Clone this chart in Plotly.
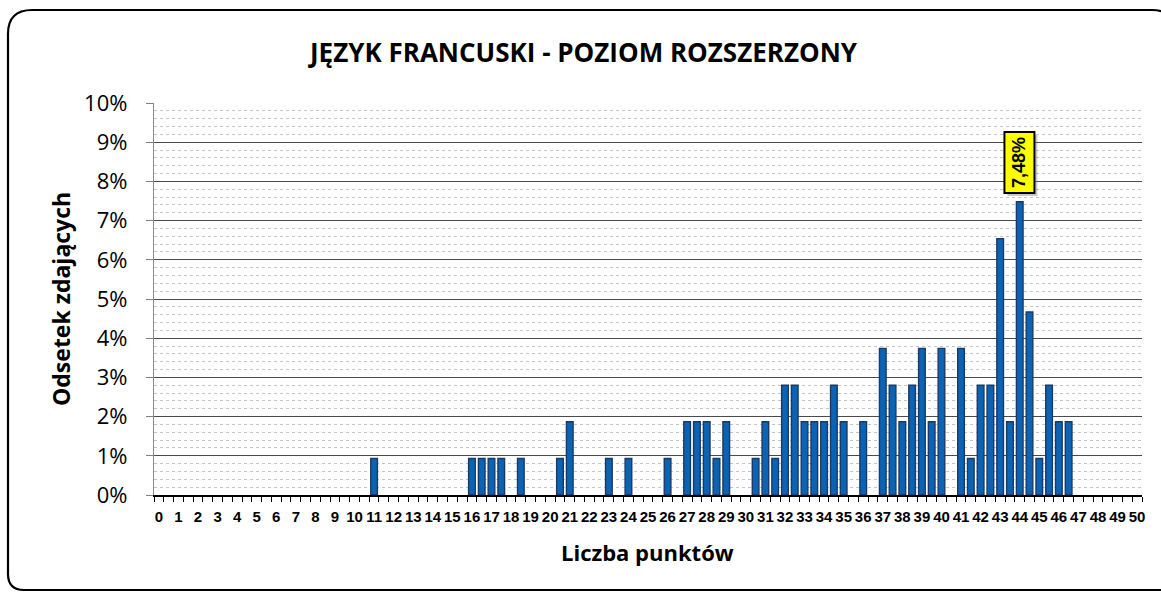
import plotly.graph_objects as go

# Categories: score points (half-point steps)
scores = [0, 0.5, 1, 1.5, 2, 2.5, 3, 3.5, 4, 4.5, 5, 5.5, 6, 6.5, 7, 7.5, 8, 8.5, 9, 9.5,
          10, 10.5, 11, 11.5, 12, 12.5, 13, 13.5, 14, 14.5, 15, 15.5, 16, 16.5, 17, 17.5,
          18, 18.5, 19, 19.5, 20, 20.5, 21, 21.5, 22, 22.5, 23, 23.5, 24, 24.5, 25, 25.5,
          26, 26.5, 27, 27.5, 28, 28.5, 29, 29.5, 30, 30.5, 31, 31.5, 32, 32.5, 33, 33.5,
          34, 34.5, 35, 35.5, 36, 36.5, 37, 37.5, 38, 38.5, 39, 39.5, 40, 40.5, 41, 41.5,
          42, 42.5, 43, 43.5, 44, 44.5, 45, 45.5, 46, 46.5, 47, 47.5, 48, 48.5, 49, 49.5, 50]

# Percent of examinees per score
percent = [0, 0, 0, 0, 0, 0, 0, 0, 0, 0, 0, 0, 0, 0, 0, 0, 0, 0, 0, 0,
           0, 0, 0.93, 0, 0, 0, 0, 0, 0, 0, 0, 0, 0.93, 0.93, 0.93, 0.93,
           0, 0.93, 0, 0, 0, 0.93, 1.87, 0, 0, 0, 0.93, 0, 0.93, 0, 0, 0,
           0.93, 0, 1.87, 1.87, 1.87, 0.93, 1.87, 0, 0, 0.93, 1.87, 0.93, 2.80, 2.80, 1.87, 1.87,
           1.87, 2.80, 1.87, 0, 1.87, 0, 3.74, 2.80, 1.87, 2.80, 3.74, 1.87, 3.74, 0, 3.74, 0.93,
           2.80, 2.80, 6.54, 1.87, 7.48, 4.67, 0.93, 2.80, 1.87, 1.87, 0, 0, 0, 0, 0, 0, 0]

x_labels = [str(i) for i in range(51)]
x_label_pos = [i for i in range(51)]
y_ticks = [0, 0.01, 0.02, 0.03, 0.04, 0.05, 0.06, 0.07, 0.08, 0.09, 0.10]
y_tick_labels = ["0%", "1%", "2%", "3%", "4%", "5%", "6%", "7%", "8%", "9%", "10%"]

title_text = "JĘZYK FRANCUSKI - POZIOM ROZSZERZONY"
x_title = "Liczba punktów"
y_title = "Odsetek zdających"
peak_label = "7,48%"

W, H = 1161, 592
L, R, T, B = 154, 1142, 103, 495  # plot area pixels


def px(x):
    return (x - L) / (R - L)


def py(y):
    return (B - y) / (B - T)


yvals = [p / 100 if p > 0 else None for p in percent]

fig = go.Figure()
fig.add_trace(go.Bar(
    x=scores, y=yvals, width=0.34,
    marker=dict(color="#0B63B5", line=dict(color="#1B3A63", width=1.4)),
    hoverinfo="skip",
))

boundaries = [-0.25 + 0.5 * k for k in range(102)]

fig.update_xaxes(
    range=[-0.25, 50.25], tickmode="array", tickvals=x_label_pos, ticktext=x_labels,
    ticks="outside", ticklen=0, tickcolor="rgba(0,0,0,0)", ticklabelstandoff=7, tickangle=0,
    tickfont=dict(family="Liberation Sans Narrow, Arial Narrow, Liberation Sans", size=15, color="black", weight="bold"),
    showline=True, linecolor="black", linewidth=1.5, showgrid=False, zeroline=False,
    minor=dict(tickvals=boundaries, ticks="outside", ticklen=5, tickcolor="black", tickwidth=1.3, showgrid=False),
    fixedrange=True,
)
fig.update_yaxes(
    range=[0, 0.10], tickmode="array", tickvals=y_ticks, ticktext=y_tick_labels,
    ticks="outside", ticklen=7, tickcolor="#808080", ticklabelstandoff=14,
    tickfont=dict(family="Open Sans, Lato, Liberation Sans", size=22, color="black"),
    showline=True, linecolor="#8c8c8c", linewidth=1.3,
    showgrid=True, gridcolor="#4a4a4a", gridwidth=1.3, zeroline=False,
    minor=dict(dtick=0.002, showgrid=True, gridcolor="#c4c4c4", griddash="dot", gridwidth=1, ticks=""),
    fixedrange=True,
)

annotations = [
    dict(text=title_text, x=px(583), y=py(52), xref="paper", yref="paper", showarrow=False,
         font=dict(family="Open Sans, Lato, Liberation Sans", size=26, color="black", weight="bold"),
         xanchor="center", yanchor="middle"),
    dict(text=x_title, x=px(647), y=py(552), xref="paper", yref="paper", showarrow=False,
         font=dict(family="Open Sans, Lato, Liberation Sans", size=22, color="black", weight="bold"),
         xanchor="center", yanchor="middle"),
    dict(text=y_title, x=px(61), y=py(299), xref="paper", yref="paper", showarrow=False, textangle=-90,
         font=dict(family="Open Sans, Lato, Liberation Sans", size=23, color="black", weight="bold"),
         xanchor="center", yanchor="middle"),
    dict(text=peak_label, x=44, y=0.0748, xref="x", yref="y", showarrow=False, textangle=-90,
         yanchor="bottom", xanchor="center", yshift=5, xshift=3,
         font=dict(family="Liberation Sans, Arial", size=18, color="rgba(0,0,0,0)", weight="bold"),
         bgcolor="rgba(120,120,120,0.4)", borderpad=4, borderwidth=2, bordercolor="rgba(0,0,0,0)"),
    dict(text=peak_label, x=44, y=0.0748, xref="x", yref="y", showarrow=False, textangle=-90,
         yanchor="bottom", xanchor="center", yshift=8,
         font=dict(family="Liberation Sans, Arial", size=18, color="black", weight="bold"),
         bgcolor="#FFFF00", borderpad=4, borderwidth=2, bordercolor="black"),
]

# rounded outer border
x0, x1, y0, y1 = 8, 1176, 10, 590
rt, rb = 24, 16
path = (f"M {px(x0 + rt)},{py(y0)} L {px(x1 - rt)},{py(y0)} Q {px(x1)},{py(y0)} {px(x1)},{py(y0 + rt)} "
        f"L {px(x1)},{py(y1 - rb)} Q {px(x1)},{py(y1)} {px(x1 - rb)},{py(y1)} "
        f"L {px(x0 + rb)},{py(y1)} Q {px(x0)},{py(y1)} {px(x0)},{py(y1 - rb)} "
        f"L {px(x0)},{py(y0 + rt)} Q {px(x0)},{py(y0)} {px(x0 + rt)},{py(y0)} Z")

fig.update_layout(
    width=W, height=H,
    margin=dict(l=L, r=W - R, t=T, b=H - B),
    plot_bgcolor="white", paper_bgcolor="white",
    showlegend=False, bargap=0.3,
    annotations=annotations,
    shapes=[dict(type="path", path=path, xref="paper", yref="paper",
                 line=dict(color="black", width=2.2), fillcolor="rgba(0,0,0,0)", layer="above")],
)

fig.write_html("out.html", config={"displayModeBar": False},
               post_script="document.body.style.margin='0';document.body.style.overflow='hidden';")
